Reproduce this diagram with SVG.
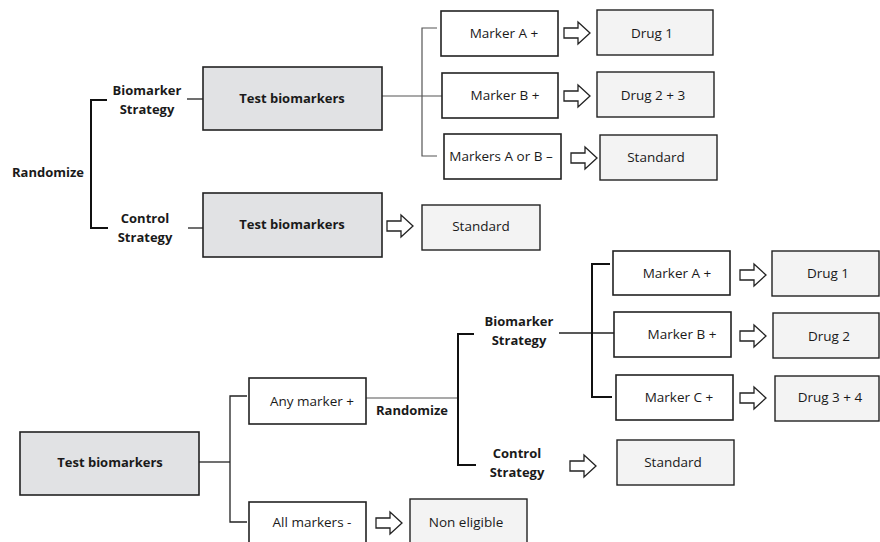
<svg xmlns="http://www.w3.org/2000/svg" width="880" height="542" viewBox="0 0 880 542">
<defs>
<style>
text{font-family:"Open Sans","Liberation Sans",sans-serif;font-size:13.5px;fill:#1a1a1a;text-anchor:middle}
.b{font-weight:bold;font-size:13px}
.test{fill:#e1e2e4;stroke:#222;stroke-width:1.6}
.mark{fill:#fff;stroke:#222;stroke-width:1.6}
.drug{fill:#f3f3f3;stroke:#222;stroke-width:1.4}
.ln{fill:none;stroke:#222;stroke-width:1.3}
.br{fill:none;stroke:#111;stroke-width:2}
.gr{fill:none;stroke:#555;stroke-width:1.2}
.arr{fill:#fff;stroke:#222;stroke-width:1.3}
</style>
<path id="ar" d="M0 -5 H14 V-11 L26 0 L14 11 V5 H0 Z"/>
</defs>
<rect width="880" height="542" fill="#fff"/>
<g id="connectors">
<path class="br" d="M107 100 H91 V228 H108"/>
<line class="ln" x1="187" y1="99" x2="203" y2="99"/>
<line class="ln" x1="188" y1="228" x2="203" y2="228"/>
<line class="gr" x1="382" y1="96" x2="442" y2="96"/>
<path class="gr" d="M437 28 H422 V156 H437"/>
<use href="#ar" class="arr" x="564" y="33"/>
<use href="#ar" class="arr" x="564" y="96"/>
<use href="#ar" class="arr" x="571" y="158"/>
<use href="#ar" class="arr" x="387" y="226"/>
<line class="ln" x1="199" y1="462" x2="230" y2="462"/>
<path class="ln" d="M247 396 H230 V522 H247"/>
<line class="gr" x1="366" y1="398" x2="458" y2="398"/>
<path class="br" d="M474 334 H458 V465 H476"/>
<line class="ln" x1="559" y1="333" x2="614" y2="333"/>
<path class="br" d="M610 264 H592 V397 H612"/>
<use href="#ar" class="arr" x="740" y="275"/>
<use href="#ar" class="arr" x="740" y="336"/>
<use href="#ar" class="arr" x="740" y="398"/>
<use href="#ar" class="arr" x="570" y="466"/>
<use href="#ar" class="arr" x="376" y="523"/>
</g>
<g id="randomize1"><text class="b" x="48" y="177">Randomize</text></g>
<g id="bio1"><text class="b" x="147" y="95">Biomarker</text><text class="b" x="147" y="114">Strategy</text></g>
<g id="ctl1"><text class="b" x="145" y="223">Control</text><text class="b" x="145" y="242">Strategy</text></g>
<g id="test1"><rect class="test" x="203" y="67" width="179" height="63"/><text class="b" x="292" y="103">Test biomarkers</text></g>
<g id="test2"><rect class="test" x="203" y="193" width="179" height="64"/><text class="b" x="292" y="229">Test biomarkers</text></g>
<g id="ma1"><rect class="mark" x="441" y="11" width="117" height="45"/><text x="504" y="38">Marker A +</text></g>
<g id="mb1"><rect class="mark" x="442" y="73" width="116" height="45"/><text x="505" y="100">Marker B +</text></g>
<g id="mab1"><rect class="mark" x="444" y="134" width="117" height="45"/><text x="501" y="161">Markers A or B –</text></g>
<g id="d1"><rect class="drug" x="597" y="10" width="116" height="45"/><text x="652" y="38">Drug 1</text></g>
<g id="d23"><rect class="drug" x="597" y="72" width="117" height="45"/><text x="653" y="100">Drug 2 + 3</text></g>
<g id="std1"><rect class="drug" x="600" y="135" width="117" height="45"/><text x="656" y="162">Standard</text></g>
<g id="std2"><rect class="drug" x="422" y="205" width="118" height="45"/><text x="481" y="231">Standard</text></g>
<g id="test3"><rect class="test" x="20" y="432" width="179" height="63"/><text class="b" x="110" y="467">Test biomarkers</text></g>
<g id="any"><rect class="mark" x="249" y="378" width="117" height="46"/><text x="312" y="406">Any marker +</text></g>
<g id="all"><rect class="mark" x="249" y="502" width="117" height="60"/><text x="312" y="527">All markers -</text></g>
<g id="noneli"><rect class="drug" x="410" y="499" width="117" height="60"/><text x="466" y="527">Non eligible</text></g>
<g id="randomize2"><text class="b" x="412" y="415">Randomize</text></g>
<g id="bio2"><text class="b" x="519" y="326">Biomarker</text><text class="b" x="519" y="345">Strategy</text></g>
<g id="ctl2"><text class="b" x="517" y="458">Control</text><text class="b" x="517" y="477">Strategy</text></g>
<g id="ma2"><rect class="mark" x="613" y="251" width="117" height="44"/><text x="677" y="278">Marker A +</text></g>
<g id="mb2"><rect class="mark" x="614" y="312" width="117" height="45"/><text x="682" y="339">Marker B +</text></g>
<g id="mc2"><rect class="mark" x="616" y="375" width="117" height="45"/><text x="679" y="402">Marker C +</text></g>
<g id="d1b"><rect class="drug" x="772" y="251" width="107" height="45"/><text x="828" y="278">Drug 1</text></g>
<g id="d2b"><rect class="drug" x="773" y="313" width="106" height="45"/><text x="829" y="341">Drug 2</text></g>
<g id="d34"><rect class="drug" x="775" y="376" width="104" height="45"/><text x="830" y="402">Drug 3 + 4</text></g>
<g id="std3"><rect class="drug" x="617" y="440" width="117" height="45"/><text x="673" y="467">Standard</text></g>
</svg>
